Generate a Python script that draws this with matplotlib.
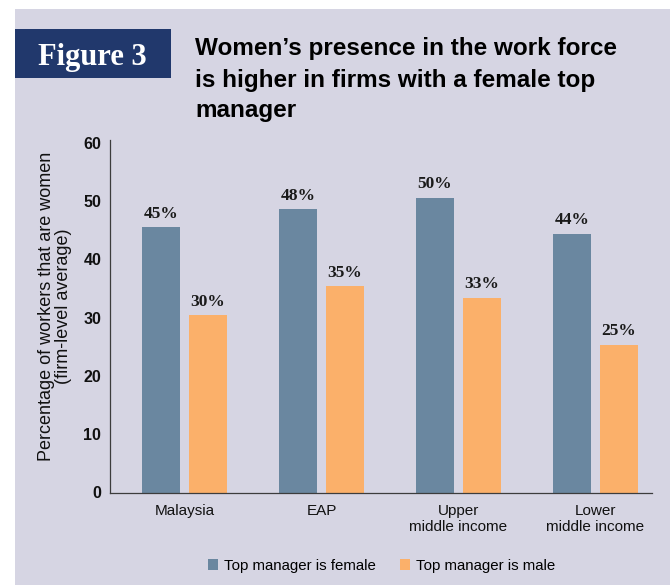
import numpy as np
import matplotlib
matplotlib.use("Agg")
import matplotlib.pyplot as plt
from matplotlib.patches import Rectangle

# data
categories = ["Malaysia", "EAP", "Upper\nmiddle income", "Lower\nmiddle income"]
female_values = [45.5, 48.6, 50.6, 44.4]
male_values = [30.4, 35.4, 33.4, 25.3]
female_labels = ["45%", "48%", "50%", "44%"]
male_labels = ["30%", "35%", "33%", "25%"]
y_ticks = [0, 10, 20, 30, 40, 50, 60]

title_lines = [
    "Women\u2019s presence in the work force",
    "is higher in firms with a female top",
    "manager",
]

BG = "#D6D5E3"
NAVY = "#21386C"
FEMALE = "#6A87A0"
MALE = "#FBB06A"
AXIS = "#3C3C3C"

plt.rcParams["font.family"] = ["Liberation Sans", "DejaVu Sans"]

fig = plt.figure(figsize=(6.7, 5.85), dpi=100)
fig.patch.set_facecolor("white")

# lavender panel and the "Figure 3" box
fig.patches.append(Rectangle((15 / 670, 0), 1, 576 / 585, transform=fig.transFigure,
                             facecolor=BG, edgecolor="none", zorder=-10))
fig.patches.append(Rectangle((15 / 670, (585 - 78) / 585), 156 / 670, 49 / 585,
                             transform=fig.transFigure, facecolor=NAVY,
                             edgecolor="none", zorder=-5))
fig.text(92 / 670, 520 / 585, "Figure 3", color="white", fontsize=22,
         fontweight="bold", family=["Liberation Serif", "DejaVu Serif"],
         ha="center", va="baseline")

baselines = [530, 497.7, 467.7]
for line, yb in zip(title_lines, baselines):
    fig.text(195 / 670, yb / 585, line, fontsize=17.5, fontweight="bold",
             color="black", ha="left", va="baseline")

ax = fig.add_axes([109.5 / 670, 92.5 / 585, 542.5 / 670, 352.5 / 585])
ax.set_facecolor("none")

x = np.arange(len(categories))
w = 0.277
off = 0.1715
bars_f = ax.bar(x - off, female_values, w, color=FEMALE, label="Top manager is female")
bars_m = ax.bar(x + off, male_values, w, color=MALE, label="Top manager is male")

for bars, labels in [(bars_f, female_labels), (bars_m, male_labels)]:
    for b, lab in zip(bars, labels):
        ax.annotate(lab, (b.get_x() + b.get_width() / 2, b.get_height()),
                    xytext=(0, 7), textcoords="offset points", ha="center",
                    va="baseline", fontsize=12.5, fontweight="bold",
                    family=["Liberation Serif", "DejaVu Serif"], color="#1a1a1a")

ax.set_xlim(-0.547, 3.412)
ax.set_ylim(0, 60.5)
ax.set_yticks(y_ticks)
ax.set_yticklabels([str(t) for t in y_ticks], fontsize=11.5, fontweight="bold")
ax.set_xticks(x)
ax.set_xticklabels(categories, fontsize=11, linespacing=1.25)
ax.tick_params(axis="both", length=0, colors="#111111")
ax.tick_params(axis="y", pad=6)
ax.tick_params(axis="x", pad=8)

for side in ["top", "right"]:
    ax.spines[side].set_visible(False)
for side in ["left", "bottom"]:
    ax.spines[side].set_color(AXIS)
    ax.spines[side].set_linewidth(0.9)

fig.text(55 / 670, (585 - 306) / 585,
         "Percentage of workers that are women\n(firm-level average)",
         rotation=90, ha="center", va="center", multialignment="center",
         fontsize=13, linespacing=0.95, color="#111111")

fig.legend(handles=[bars_f, bars_m], loc="center", bbox_to_anchor=(382 / 670, 19.4 / 585),
           ncol=2, frameon=False, fontsize=10.8, handlelength=0.67, handleheight=0.8,
           handletextpad=0.4, columnspacing=1.6)

fig.savefig("out.png", dpi=100)
